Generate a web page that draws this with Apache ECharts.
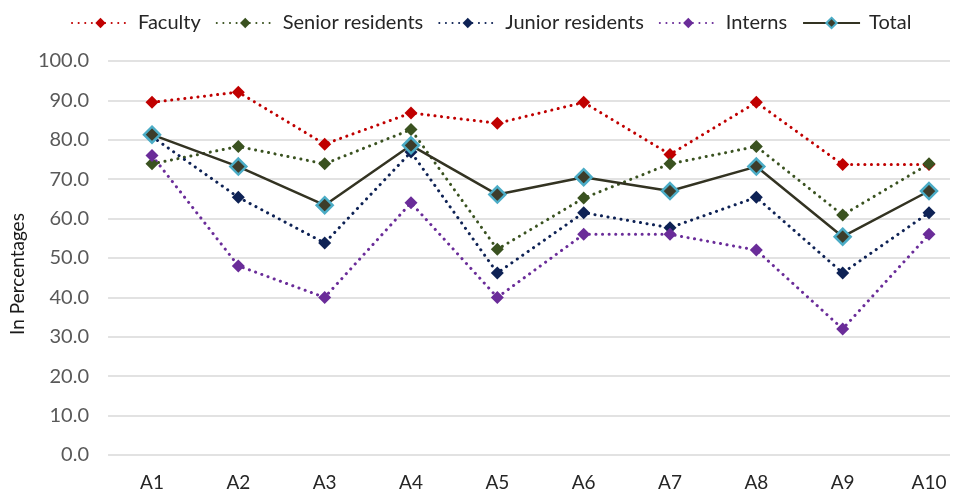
<!DOCTYPE html>
<html>
<head>
<meta charset="utf-8">
<script src="https://cdn.jsdelivr.net/npm/echarts@6/dist/echarts.min.js"></script>
<style>
  html, body { margin: 0; padding: 0; background: #fff; }
  #chart { width: 959px; height: 495px; }
</style>
</head>
<body>
<div id="chart"></div>
<script>
// Categories and per-group percentages
const categories = ['A1', 'A2', 'A3', 'A4', 'A5', 'A6', 'A7', 'A8', 'A9', 'A10'];
const faculty = [89.5, 92.1, 78.9, 86.8, 84.2, 89.5, 76.3, 89.5, 73.7, 73.7];
const seniorResidents = [73.9, 78.3, 73.9, 82.6, 52.2, 65.2, 73.9, 78.3, 60.9, 73.9];
const juniorResidents = [80.8, 65.4, 53.8, 76.9, 46.2, 61.5, 57.7, 65.4, 46.2, 61.5];
const interns = [76.0, 48.0, 40.0, 64.0, 40.0, 56.0, 56.0, 52.0, 32.0, 56.0];
const total = [81.3, 73.2, 63.4, 78.6, 66.1, 70.5, 67.0, 73.2, 55.4, 67.0];
const yTicks = { min: 0, max: 100, interval: 10 };

const FONT = 'Lato, "Open Sans", sans-serif';

function dotted(name, data, color) {
  return {
    name, type: 'line', data,
    xAxisIndex: 0, yAxisIndex: 0,
    symbol: 'diamond', symbolSize: 13,
    itemStyle: { color: color, borderWidth: 0 },
    lineStyle: { color: color, width: 3, type: [0.1, 6.5], cap: 'round' },
    emphasis: { disabled: true },
    animation: false
  };
}

const chart = echarts.init(document.getElementById('chart'), null, { renderer: 'canvas' });
chart.setOption({
  backgroundColor: '#ffffff',
  textStyle: { fontFamily: FONT },
  legend: {
    top: 8, left: 66,
    itemWidth: 57, itemHeight: 13, itemGap: 15,
    textStyle: { fontFamily: FONT, fontSize: 20, color: '#262626', padding: [0, 0, 0, 4] },
    data: ['Faculty', 'Senior residents', 'Junior residents', 'Interns', 'Total']
  },
  grid: [
    // plotting area: first and last category sit inside the gridline span
    { left: 152, right: 30, top: 61, bottom: 40 },
    // background area that carries the value scale and its gridlines
    { left: 108, right: 9, top: 61, bottom: 40 }
  ],
  xAxis: [
    {
      gridIndex: 0, type: 'category', data: categories, boundaryGap: false,
      axisLine: { show: false }, axisTick: { show: false }, splitLine: { show: false },
      axisLabel: { margin: 18, fontSize: 19, color: '#262626', fontFamily: FONT }
    },
    { gridIndex: 1, type: 'value', show: false }
  ],
  yAxis: [
    { gridIndex: 0, type: 'value', min: yTicks.min, max: yTicks.max, interval: yTicks.interval, show: false },
    {
      gridIndex: 1, type: 'value', min: yTicks.min, max: yTicks.max, interval: yTicks.interval,
      axisLine: { show: false }, axisTick: { show: false },
      splitLine: { lineStyle: { color: '#d9d9d9', width: 1.5 } },
      axisLabel: { margin: 19, fontSize: 20, color: '#595959', fontFamily: FONT,
                   formatter: v => v.toFixed(1) },
      name: 'In Percentages', nameLocation: 'middle', nameGap: 79, nameRotate: 90,
      nameTextStyle: { fontSize: 19, color: '#1a1a1a', fontFamily: FONT, padding: [0, 32, 0, 0] }
    }
  ],
  series: [
    dotted('Faculty', faculty, '#c00000'),
    dotted('Senior residents', seniorResidents, '#3a5220'),
    dotted('Junior residents', juniorResidents, '#0e2255'),
    dotted('Interns', interns, '#6a2c99'),
    {
      name: 'Total', type: 'line', data: total,
      xAxisIndex: 0, yAxisIndex: 0,
      symbol: 'diamond', symbolSize: 16,
      itemStyle: { color: '#3d3d2b', borderColor: '#4bacc6', borderWidth: 2.5 },
      lineStyle: { color: '#333322', width: 2.5 },
      emphasis: { disabled: true },
      animation: false
    }
  ]
});
</script>
</body>
</html>
